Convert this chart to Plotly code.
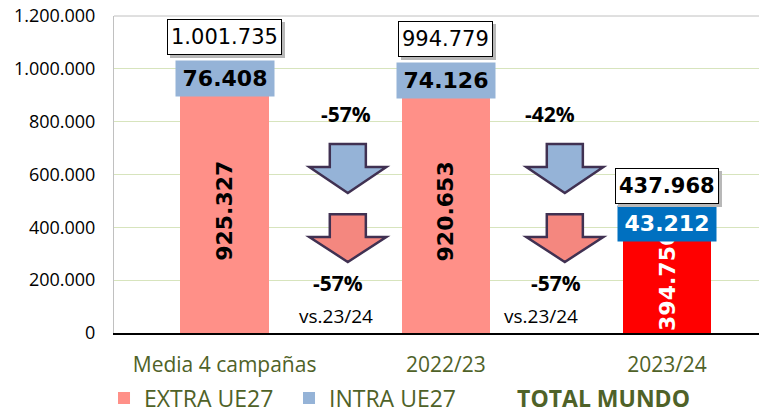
import plotly.graph_objects as go

# ---------------- data ----------------
categories = ["Media 4 campañas", "2022/23", "2023/24"]
extra_ue27 = [925327, 920653, 394756]
intra_ue27 = [76408, 74126, 43212]
total_mundo = [1001735, 994779, 437968]
total_bold = [False, False, True]
y_tick_values = [0, 200000, 400000, 600000, 800000, 1000000, 1200000]

change_intra_labels = ["-57%", "-42%"]
change_extra_labels = ["-57%", "-57%"]
change_ref_labels = ["vs.23/24", "vs.23/24"]

# ---------------- styles ----------------
extra_colors = ["#ff9088", "#ff9088", "#ff0000"]
intra_colors = ["#95b3d7", "#95b3d7", "#0070c0"]
label_colors = ["black", "black", "white"]
olive = "#4f6228"
num_font = "DejaVu Sans"
txt_font = "Open Sans"


def fmt(v):
    return f"{v:,}".replace(",", ".")


x = list(range(len(categories)))

fig = go.Figure()

fig.add_trace(go.Bar(
    x=x, y=extra_ue27, name="EXTRA UE27", width=0.4,
    marker=dict(color=extra_colors, line=dict(width=0)),
    text=[f"<b>{fmt(v)}</b>" for v in extra_ue27],
    textposition="inside", insidetextanchor="middle", textangle=-90,
    constraintext="none", cliponaxis=True,
    textfont=dict(family=num_font, size=22, color=label_colors),
    hoverinfo="skip", legend="legend",
))
fig.add_trace(go.Bar(
    x=x, y=intra_ue27, name="INTRA UE27", width=0.4,
    marker=dict(color=intra_colors, line=dict(width=0)),
    hoverinfo="skip", legend="legend",
))
fig.add_trace(go.Scatter(
    x=x, y=total_mundo, name="<b>TOTAL MUNDO</b>", mode="markers",
    marker=dict(color="rgba(0,0,0,0)", size=1),
    hoverinfo="skip", legend="legend2",
))

annotations = []
for i in x:
    # intra labels (boxed)
    annotations.append(dict(
        x=i, y=extra_ue27[i] + intra_ue27[i] / 2, xref="x", yref="y",
        text=f"<b>{fmt(intra_ue27[i])}</b>", showarrow=False,
        font=dict(family=num_font, size=22, color=label_colors[i]),
        bgcolor=intra_colors[i], width=94, height=31, borderpad=2,
    ))
    # total labels (boxed, with shadow)
    t = fmt(total_mundo[i])
    if total_bold[i]:
        t = f"<b>{t}</b>"
    annotations.append(dict(
        x=i, y=total_mundo[i], xref="x", yref="y", yanchor="bottom", yshift=10,
        xshift=3, text=t, showarrow=False, height=28,
        font=dict(family=num_font, size=21, color="rgba(0,0,0,0)"),
        bgcolor="#b8b8b8", borderpad=3, borderwidth=1, bordercolor="#b8b8b8",
    ))
    annotations.append(dict(
        x=i, y=total_mundo[i], xref="x", yref="y", yanchor="bottom", yshift=13,
        text=t, showarrow=False, height=28,
        font=dict(family=num_font, size=21, color="black"),
        bgcolor="white", borderpad=3, borderwidth=1, bordercolor="black",
    ))

# change labels between bars
gap_x_top = [0.548, 1.471]
gap_x_bottom = [0.511, 1.498]
gap_x_ref = [0.502, 1.43]
for k in range(2):
    annotations.append(dict(x=gap_x_top[k], y=829000, xref="x", yref="y",
                            text=f"<b>{change_intra_labels[k]}</b>", showarrow=False,
                            font=dict(family=txt_font, size=21, color="black")))
    annotations.append(dict(x=gap_x_bottom[k], y=189000, xref="x", yref="y",
                            text=f"<b>{change_extra_labels[k]}</b>", showarrow=False,
                            font=dict(family=txt_font, size=21, color="black")))
    annotations.append(dict(x=gap_x_ref[k], y=64000, xref="x", yref="y",
                            text=change_ref_labels[k], showarrow=False,
                            font=dict(family=txt_font, size=19, color="black")))


def arrow_path(xc, y_top, y_neck, y_tip, shaft_hw=0.0815, head_hw=0.174):
    pts = [(xc - shaft_hw, y_top), (xc + shaft_hw, y_top), (xc + shaft_hw, y_neck),
           (xc + head_hw, y_neck), (xc, y_tip), (xc - head_hw, y_neck),
           (xc - shaft_hw, y_neck)]
    return "M " + " L ".join(f"{a},{b}" for a, b in pts) + " Z"


arrow_x = [0.557, 1.538]
shapes = []
for k in range(2):
    shapes.append(dict(type="path", xref="x", yref="y",
                       path=arrow_path(arrow_x[k], 715000, 628000, 530000),
                       fillcolor="#95b3d7", line=dict(color="#403152", width=2.5)))
    shapes.append(dict(type="path", xref="x", yref="y",
                       path=arrow_path(arrow_x[k], 450000, 363000, 269000),
                       fillcolor="#f4877f", line=dict(color="#403152", width=2.5)))
# top border of plot area
shapes.append(dict(type="line", xref="paper", yref="paper", x0=0, x1=1, y0=1, y1=1,
                   line=dict(color="#c0c0c0", width=1)))

legend_common = dict(orientation="h", yanchor="middle", y=-0.205,
                     font=dict(family=txt_font, size=23, color=olive),
                     bgcolor="rgba(0,0,0,0)", traceorder="normal")

# the page body adds an 8px margin, so the figure is 8px smaller than the window
fig.update_layout(
    width=759, height=405,
    margin=dict(l=106, r=0, t=8, b=80, autoexpand=False),
    barmode="stack",
    separators=",.",
    paper_bgcolor="white", plot_bgcolor="white",
    annotations=annotations, shapes=shapes,
    showlegend=True,
    legend=dict(x=-0.0153, xanchor="left", entrywidth=140, entrywidthmode="pixels",
                **legend_common),
    legend2=dict(x=0.556, xanchor="left", **legend_common),
    xaxis=dict(range=[-0.5, 2.452], tickvals=x, ticktext=categories,
               showgrid=False, zeroline=False, showline=True, automargin=False,
               linecolor="black", linewidth=2, ticks="",
               tickfont=dict(family=txt_font, size=21, color=olive),
               ticklabelstandoff=12),
    yaxis=dict(range=[0, 1200000], tickvals=y_tick_values, tickformat=",d",
               showgrid=True, gridcolor="#d7e4bd", gridwidth=1, automargin=False,
               zeroline=False, showline=True, linecolor="#c0c0c0", linewidth=1,
               ticks="", tickfont=dict(family=txt_font, size=18, color="black"),
               ticklabelstandoff=14, ticklabeloverflow="allow"),
)

fig.write_html("out.html")
